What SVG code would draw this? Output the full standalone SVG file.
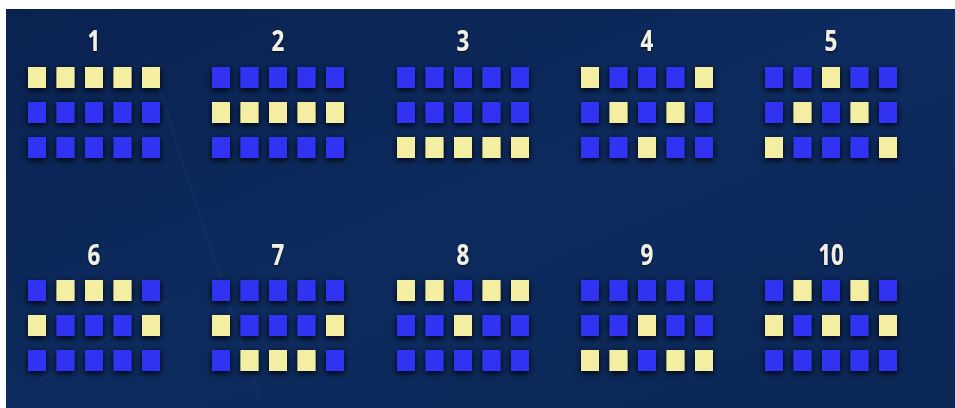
<svg xmlns="http://www.w3.org/2000/svg" width="955" height="408" viewBox="0 0 955 408">
<defs>
<linearGradient id="bg" x1="0" y1="0" x2="1" y2="1">
<stop offset="0" stop-color="#0a2250"/>
<stop offset="0.5" stop-color="#0d2b5e"/>
<stop offset="1" stop-color="#0b2756"/>
</linearGradient>
<filter id="sh" x="-20%" y="-20%" width="140%" height="150%">
<feDropShadow dx="0" dy="2" stdDeviation="3" flood-color="#00000c" flood-opacity="1"/>
</filter>
<filter id="tsh" x="-30%" y="-30%" width="160%" height="160%">
<feDropShadow dx="0" dy="1" stdDeviation="1.2" flood-color="#000" flood-opacity="0.8"/>
</filter>
</defs>
<style>
.b{fill:#3333f2}
.y{fill:#f4eea2}
.sq{filter:url(#sh)}
.lbl{font-family:"Open Sans","Liberation Sans",sans-serif;font-weight:bold;font-size:28px;fill:#f2f0e4;text-anchor:middle;filter:url(#tsh)}
</style>
<rect x="0" y="0" width="955" height="408" fill="#ffffff"/>
<rect x="6" y="9" width="949" height="399" fill="url(#bg)"/>
<g opacity="0.035" fill="none" stroke="#9fb8ff" stroke-width="3">
<path d="M 40 380 L 170 300 M 560 380 L 640 300 M 150 60 L 260 400"/>
</g>

<g id="line1" transform="translate(28,67)">
<text class="lbl" x="66" y="-16" transform="scale(0.8,1) translate(16.5,0)">1</text>
<g class="sq">
<rect class="y" x="0" y="0" width="18" height="21"/><rect class="y" x="28.5" y="0" width="18" height="21"/><rect class="y" x="57" y="0" width="18" height="21"/><rect class="y" x="85.5" y="0" width="18" height="21"/><rect class="y" x="114" y="0" width="18" height="21"/>
<rect class="b" x="0" y="35" width="18" height="21"/><rect class="b" x="28.5" y="35" width="18" height="21"/><rect class="b" x="57" y="35" width="18" height="21"/><rect class="b" x="85.5" y="35" width="18" height="21"/><rect class="b" x="114" y="35" width="18" height="21"/>
<rect class="b" x="0" y="70" width="18" height="21"/><rect class="b" x="28.5" y="70" width="18" height="21"/><rect class="b" x="57" y="70" width="18" height="21"/><rect class="b" x="85.5" y="70" width="18" height="21"/><rect class="b" x="114" y="70" width="18" height="21"/>
</g>
</g>

<g id="line2" transform="translate(212,67)">
<text class="lbl" x="66" y="-16" transform="scale(0.8,1) translate(16.5,0)">2</text>
<g class="sq">
<rect class="b" x="0" y="0" width="18" height="21"/><rect class="b" x="28.5" y="0" width="18" height="21"/><rect class="b" x="57" y="0" width="18" height="21"/><rect class="b" x="85.5" y="0" width="18" height="21"/><rect class="b" x="114" y="0" width="18" height="21"/>
<rect class="y" x="0" y="35" width="18" height="21"/><rect class="y" x="28.5" y="35" width="18" height="21"/><rect class="y" x="57" y="35" width="18" height="21"/><rect class="y" x="85.5" y="35" width="18" height="21"/><rect class="y" x="114" y="35" width="18" height="21"/>
<rect class="b" x="0" y="70" width="18" height="21"/><rect class="b" x="28.5" y="70" width="18" height="21"/><rect class="b" x="57" y="70" width="18" height="21"/><rect class="b" x="85.5" y="70" width="18" height="21"/><rect class="b" x="114" y="70" width="18" height="21"/>
</g>
</g>

<g id="line3" transform="translate(397,67)">
<text class="lbl" x="66" y="-16" transform="scale(0.8,1) translate(16.5,0)">3</text>
<g class="sq">
<rect class="b" x="0" y="0" width="18" height="21"/><rect class="b" x="28.5" y="0" width="18" height="21"/><rect class="b" x="57" y="0" width="18" height="21"/><rect class="b" x="85.5" y="0" width="18" height="21"/><rect class="b" x="114" y="0" width="18" height="21"/>
<rect class="b" x="0" y="35" width="18" height="21"/><rect class="b" x="28.5" y="35" width="18" height="21"/><rect class="b" x="57" y="35" width="18" height="21"/><rect class="b" x="85.5" y="35" width="18" height="21"/><rect class="b" x="114" y="35" width="18" height="21"/>
<rect class="y" x="0" y="70" width="18" height="21"/><rect class="y" x="28.5" y="70" width="18" height="21"/><rect class="y" x="57" y="70" width="18" height="21"/><rect class="y" x="85.5" y="70" width="18" height="21"/><rect class="y" x="114" y="70" width="18" height="21"/>
</g>
</g>

<g id="line4" transform="translate(581,67)">
<text class="lbl" x="66" y="-16" transform="scale(0.8,1) translate(16.5,0)">4</text>
<g class="sq">
<rect class="y" x="0" y="0" width="18" height="21"/><rect class="b" x="28.5" y="0" width="18" height="21"/><rect class="b" x="57" y="0" width="18" height="21"/><rect class="b" x="85.5" y="0" width="18" height="21"/><rect class="y" x="114" y="0" width="18" height="21"/>
<rect class="b" x="0" y="35" width="18" height="21"/><rect class="y" x="28.5" y="35" width="18" height="21"/><rect class="b" x="57" y="35" width="18" height="21"/><rect class="y" x="85.5" y="35" width="18" height="21"/><rect class="b" x="114" y="35" width="18" height="21"/>
<rect class="b" x="0" y="70" width="18" height="21"/><rect class="b" x="28.5" y="70" width="18" height="21"/><rect class="y" x="57" y="70" width="18" height="21"/><rect class="b" x="85.5" y="70" width="18" height="21"/><rect class="b" x="114" y="70" width="18" height="21"/>
</g>
</g>

<g id="line5" transform="translate(765,67)">
<text class="lbl" x="66" y="-16" transform="scale(0.8,1) translate(16.5,0)">5</text>
<g class="sq">
<rect class="b" x="0" y="0" width="18" height="21"/><rect class="b" x="28.5" y="0" width="18" height="21"/><rect class="y" x="57" y="0" width="18" height="21"/><rect class="b" x="85.5" y="0" width="18" height="21"/><rect class="b" x="114" y="0" width="18" height="21"/>
<rect class="b" x="0" y="35" width="18" height="21"/><rect class="y" x="28.5" y="35" width="18" height="21"/><rect class="b" x="57" y="35" width="18" height="21"/><rect class="y" x="85.5" y="35" width="18" height="21"/><rect class="b" x="114" y="35" width="18" height="21"/>
<rect class="y" x="0" y="70" width="18" height="21"/><rect class="b" x="28.5" y="70" width="18" height="21"/><rect class="b" x="57" y="70" width="18" height="21"/><rect class="b" x="85.5" y="70" width="18" height="21"/><rect class="y" x="114" y="70" width="18" height="21"/>
</g>
</g>

<g id="line6" transform="translate(28,280)">
<text class="lbl" x="66" y="-15" transform="scale(0.8,1) translate(16.5,0)">6</text>
<g class="sq">
<rect class="b" x="0" y="0" width="18" height="21"/><rect class="y" x="28.5" y="0" width="18" height="21"/><rect class="y" x="57" y="0" width="18" height="21"/><rect class="y" x="85.5" y="0" width="18" height="21"/><rect class="b" x="114" y="0" width="18" height="21"/>
<rect class="y" x="0" y="35" width="18" height="21"/><rect class="b" x="28.5" y="35" width="18" height="21"/><rect class="b" x="57" y="35" width="18" height="21"/><rect class="b" x="85.5" y="35" width="18" height="21"/><rect class="y" x="114" y="35" width="18" height="21"/>
<rect class="b" x="0" y="70" width="18" height="21"/><rect class="b" x="28.5" y="70" width="18" height="21"/><rect class="b" x="57" y="70" width="18" height="21"/><rect class="b" x="85.5" y="70" width="18" height="21"/><rect class="b" x="114" y="70" width="18" height="21"/>
</g>
</g>

<g id="line7" transform="translate(212,280)">
<text class="lbl" x="66" y="-15" transform="scale(0.8,1) translate(16.5,0)">7</text>
<g class="sq">
<rect class="b" x="0" y="0" width="18" height="21"/><rect class="b" x="28.5" y="0" width="18" height="21"/><rect class="b" x="57" y="0" width="18" height="21"/><rect class="b" x="85.5" y="0" width="18" height="21"/><rect class="b" x="114" y="0" width="18" height="21"/>
<rect class="y" x="0" y="35" width="18" height="21"/><rect class="b" x="28.5" y="35" width="18" height="21"/><rect class="b" x="57" y="35" width="18" height="21"/><rect class="b" x="85.5" y="35" width="18" height="21"/><rect class="y" x="114" y="35" width="18" height="21"/>
<rect class="b" x="0" y="70" width="18" height="21"/><rect class="y" x="28.5" y="70" width="18" height="21"/><rect class="y" x="57" y="70" width="18" height="21"/><rect class="y" x="85.5" y="70" width="18" height="21"/><rect class="b" x="114" y="70" width="18" height="21"/>
</g>
</g>

<g id="line8" transform="translate(397,280)">
<text class="lbl" x="66" y="-15" transform="scale(0.8,1) translate(16.5,0)">8</text>
<g class="sq">
<rect class="y" x="0" y="0" width="18" height="21"/><rect class="y" x="28.5" y="0" width="18" height="21"/><rect class="b" x="57" y="0" width="18" height="21"/><rect class="y" x="85.5" y="0" width="18" height="21"/><rect class="y" x="114" y="0" width="18" height="21"/>
<rect class="b" x="0" y="35" width="18" height="21"/><rect class="b" x="28.5" y="35" width="18" height="21"/><rect class="y" x="57" y="35" width="18" height="21"/><rect class="b" x="85.5" y="35" width="18" height="21"/><rect class="b" x="114" y="35" width="18" height="21"/>
<rect class="b" x="0" y="70" width="18" height="21"/><rect class="b" x="28.5" y="70" width="18" height="21"/><rect class="b" x="57" y="70" width="18" height="21"/><rect class="b" x="85.5" y="70" width="18" height="21"/><rect class="b" x="114" y="70" width="18" height="21"/>
</g>
</g>

<g id="line9" transform="translate(581,280)">
<text class="lbl" x="66" y="-15" transform="scale(0.8,1) translate(16.5,0)">9</text>
<g class="sq">
<rect class="b" x="0" y="0" width="18" height="21"/><rect class="b" x="28.5" y="0" width="18" height="21"/><rect class="b" x="57" y="0" width="18" height="21"/><rect class="b" x="85.5" y="0" width="18" height="21"/><rect class="b" x="114" y="0" width="18" height="21"/>
<rect class="b" x="0" y="35" width="18" height="21"/><rect class="b" x="28.5" y="35" width="18" height="21"/><rect class="y" x="57" y="35" width="18" height="21"/><rect class="b" x="85.5" y="35" width="18" height="21"/><rect class="b" x="114" y="35" width="18" height="21"/>
<rect class="y" x="0" y="70" width="18" height="21"/><rect class="y" x="28.5" y="70" width="18" height="21"/><rect class="b" x="57" y="70" width="18" height="21"/><rect class="y" x="85.5" y="70" width="18" height="21"/><rect class="y" x="114" y="70" width="18" height="21"/>
</g>
</g>

<g id="line10" transform="translate(765,280)">
<text class="lbl" x="66" y="-15" transform="scale(0.8,1) translate(16.5,0)">10</text>
<g class="sq">
<rect class="b" x="0" y="0" width="18" height="21"/><rect class="y" x="28.5" y="0" width="18" height="21"/><rect class="b" x="57" y="0" width="18" height="21"/><rect class="y" x="85.5" y="0" width="18" height="21"/><rect class="b" x="114" y="0" width="18" height="21"/>
<rect class="y" x="0" y="35" width="18" height="21"/><rect class="b" x="28.5" y="35" width="18" height="21"/><rect class="y" x="57" y="35" width="18" height="21"/><rect class="b" x="85.5" y="35" width="18" height="21"/><rect class="y" x="114" y="35" width="18" height="21"/>
<rect class="b" x="0" y="70" width="18" height="21"/><rect class="b" x="28.5" y="70" width="18" height="21"/><rect class="b" x="57" y="70" width="18" height="21"/><rect class="b" x="85.5" y="70" width="18" height="21"/><rect class="b" x="114" y="70" width="18" height="21"/>
</g>
</g>
</svg>
